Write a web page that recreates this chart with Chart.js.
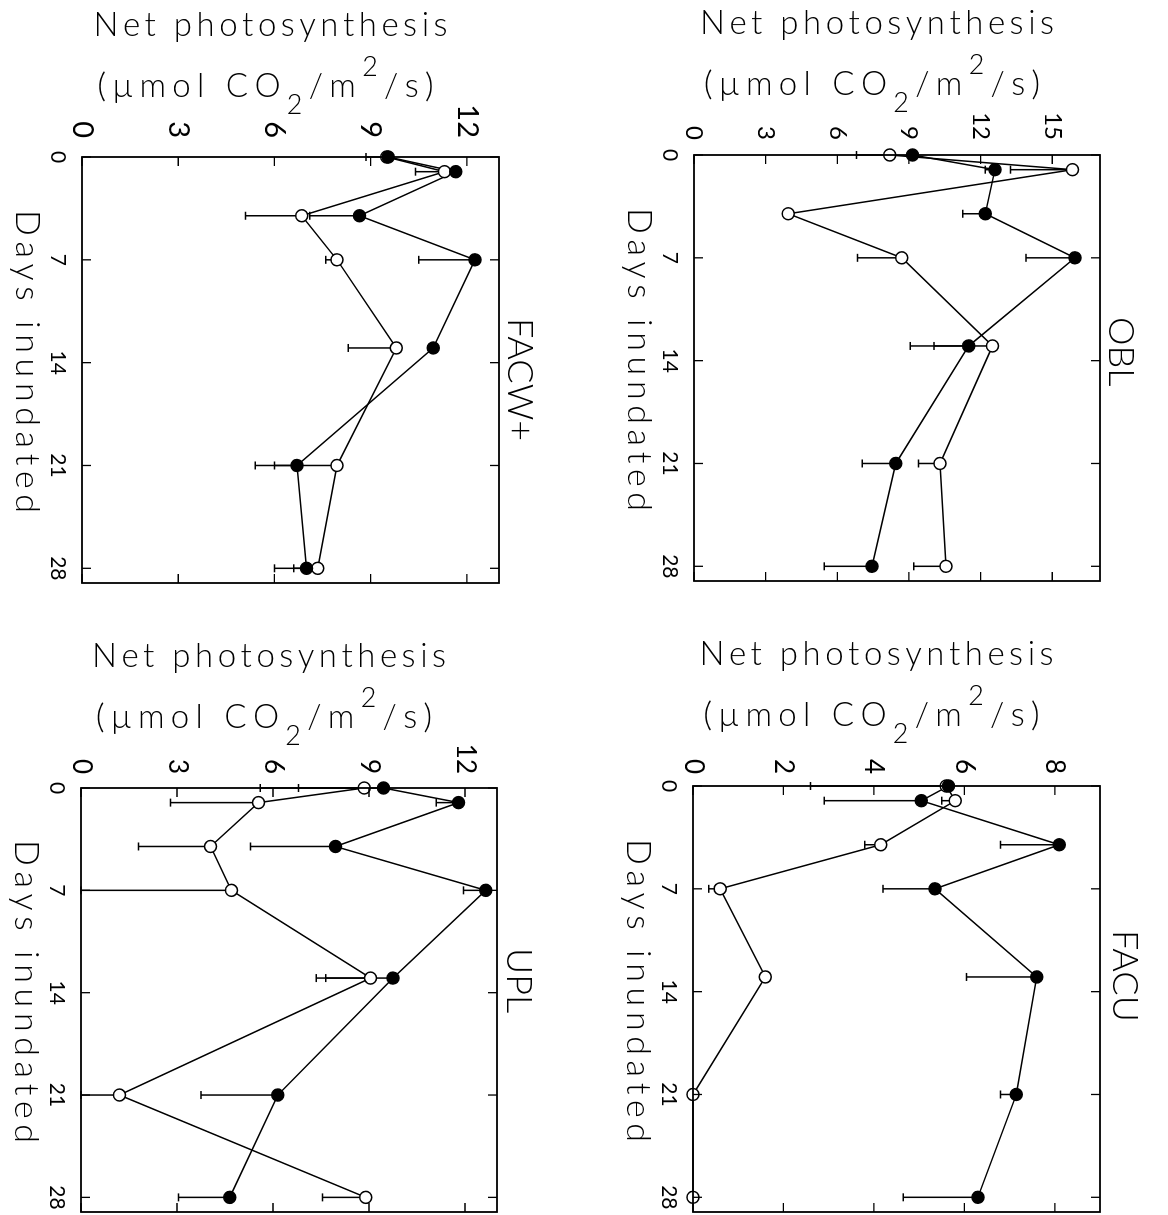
<!doctype html>
<html>
<head>
<meta charset="utf-8">
<title>Net photosynthesis vs days inundated</title>
<script src="https://cdn.jsdelivr.net/npm/chart.js@4.4.1/dist/chart.umd.min.js"></script>
<style>
  html, body { margin: 0; padding: 0; background: #fff; }
  #fig { position: relative; width: 1168px; height: 1215px; overflow: hidden; background: #fff; }
  .panel { position: absolute; width: 584px; height: 640px; }
  /* each chart is drawn "landscape" and turned a quarter turn clockwise */
  .panel canvas { position: absolute; left: 0; top: 0; transform-origin: 0 0; transform: translateX(584px) rotate(90deg); }
</style>
</head>
<body>
<div id="fig">
  <div class="panel" style="left:0;top:0"><canvas id="facw" width="640" height="584"></canvas></div>
  <div class="panel" style="left:584px;top:0"><canvas id="obl" width="640" height="584"></canvas></div>
  <div class="panel" style="left:0;top:600px"><canvas id="upl" width="640" height="584"></canvas></div>
  <div class="panel" style="left:584px;top:600px"><canvas id="facu" width="640" height="584"></canvas></div>
</div>
<script>
const days = [0, 1, 4, 7, 13, 21, 28];
const dayTicks = [0, 7, 14, 21, 28];
const photoTicks12 = [0, 3, 6, 9, 12];
const photoTicks15 = [0, 3, 6, 9, 12, 15];
const photoTicks8 = [0, 2, 4, 6, 8];

// FACW+  (filled = closed symbols, open = open symbols, *Low = lower end of error bar)
const facwFilled    = [9.55, 11.65, 8.65, 12.25, 10.95, 6.7, 7.0];
const facwFilledLow = [8.85, null, 7.1, 10.5, null, 5.4, 6.0];
const facwOpen      = [9.5, 11.3, 6.85, 7.95, 9.8, 7.95, 7.35];
const facwOpenLow   = [null, 10.4, 5.1, 7.6, 8.3, 6.0, 6.6];

// OBL
const oblFilled    = [9.15, 12.6, 12.2, 15.95, 11.5, 8.45, 7.45];
const oblFilledLow = [null, 12.2, 11.25, 13.9, 9.05, 7.05, 5.45];
const oblOpen      = [8.2, 15.85, 3.95, 8.7, 12.5, 10.3, 10.55];
const oblOpenLow   = [6.8, 13.25, null, 6.85, 10.05, 9.4, 9.2];

// UPL
const uplFilled    = [9.45, 11.8, 7.95, 12.65, 9.75, 6.15, 4.65];
const uplFilledLow = [5.6, 11.1, 5.3, 11.95, 7.65, 3.75, 3.05];
const uplOpen      = [8.85, 5.55, 4.05, 4.7, 9.05, 1.2, 8.9];
const uplOpenLow   = [6.8, 2.8, 1.8, 0, 7.35, 0, 7.55];

// FACU
const facuFilled    = [5.65, 5.05, 8.1, 5.35, 7.6, 7.15, 6.3];
const facuFilledLow = [null, 2.9, 6.8, 4.2, 6.05, 6.8, 4.65];
const facuOpen      = [5.6, 5.8, 4.15, 0.6, 1.6, 0, 0];
const facuOpenLow   = [2.6, 5.5, 3.8, 0.35, null, null, null];

const FONT = 'Lato, "Liberation Sans", sans-serif';
const FW = '300';

function pts(vals) {
  return days.map((d, i) => ({ x: d, y: vals[i] })).filter(p => p.y != null);
}

// letters spread out to a given width (the original lettering is wide)
function drawSpaced(ctx, parts, cx, by, width) {
  const chars = [];
  parts.forEach(p => {
    ctx.font = FW + ' ' + p.s + 'px ' + FONT;
    for (const ch of p.t) chars.push({ ch, s: p.s, dy: p.dy || 0, w: ctx.measureText(ch).width });
  });
  const sum = chars.reduce((s, c) => s + c.w, 0);
  const gap = (width - sum) / (chars.length - 1);
  let x = cx - width / 2;
  ctx.textAlign = 'left';
  ctx.textBaseline = 'alphabetic';
  chars.forEach(c => {
    ctx.font = FW + ' ' + c.s + 'px ' + FONT;
    ctx.fillText(c.ch, x, by + c.dy);
    x += c.w + gap;
  });
}

const panelDeco = {
  id: 'panelDeco',
  beforeDatasetsDraw(chart, args, opts) {
    const { ctx, scales: { x, y } } = chart;
    ctx.save();
    ctx.strokeStyle = '#000';
    ctx.lineWidth = 1.5;
    opts.bars.forEach(([vals, lows]) => {
      days.forEach((d, i) => {
        if (vals[i] == null || lows[i] == null) return;
        const px = x.getPixelForValue(d);
        const p0 = y.getPixelForValue(vals[i]);
        const p1 = y.getPixelForValue(lows[i]);
        ctx.beginPath();
        ctx.moveTo(px, p0); ctx.lineTo(px, p1);
        ctx.moveTo(px - 4, p1); ctx.lineTo(px + 4, p1);
        ctx.stroke();
      });
    });
    ctx.restore();
  },
  afterDatasetsDraw(chart, args, opts) {
    const { ctx, chartArea: a, scales: { x, y } } = chart;
    ctx.save();
    ctx.strokeStyle = '#000';
    ctx.fillStyle = '#000';
    ctx.lineWidth = 1.8;
    ctx.strokeRect(a.left, a.top, a.right - a.left, a.bottom - a.top);
    // inward ticks on all four sides
    ctx.lineWidth = 1.3;
    ctx.beginPath();
    x.ticks.forEach(t => {
      const px = x.getPixelForValue(t.value);
      ctx.moveTo(px, a.bottom); ctx.lineTo(px, a.bottom - 9);
      ctx.moveTo(px, a.top); ctx.lineTo(px, a.top + 9);
    });
    y.ticks.forEach(t => {
      const py = y.getPixelForValue(t.value);
      ctx.moveTo(a.left, py); ctx.lineTo(a.left + 9, py);
      ctx.moveTo(a.right, py); ctx.lineTo(a.right - 9, py);
    });
    ctx.stroke();

    // panel name above the plot
    ctx.font = FW + ' 36px ' + FONT;
    ctx.textAlign = 'left';
    ctx.textBaseline = 'alphabetic';
    ctx.fillText(opts.label, a.left + opts.labelStart, a.top - opts.labelGap);

    // days axis title
    drawSpaced(ctx, [{ t: 'Days inundated', s: 34 }], (a.left + a.right) / 2 - 8.5, a.bottom + 66, 303);

    // photosynthesis title, written in the turned (page) frame
    ctx.translate(0, chart.height);
    ctx.rotate(-Math.PI / 2);
    const sx0 = chart.height - a.bottom, sx1 = chart.height - a.top, sy0 = a.left;
    const cx = (sx0 + sx1) / 2;
    drawSpaced(ctx, [{ t: 'Net photosynthesis', s: 33 }], cx - 20, sy0 - 121, 354);
    drawSpaced(ctx, [
      { t: '(\u00b5mol CO', s: 33 },
      { t: '2', s: 27, dy: 17 },
      { t: '/m', s: 33 },
      { t: '2', s: 27, dy: -21 },
      { t: '/s)', s: 33 }
    ], cx - 25, sy0 - 60, 336);
    ctx.restore();
  }
};

function makePanel(id, p) {
  const W = 640, H = 584;
  const lineDs = (vals) => ({
    data: pts(vals), showLine: true, pointRadius: 0, borderColor: '#000', borderWidth: 1.5, clip: false
  });
  const pointDs = (vals, fill) => ({
    data: pts(vals), showLine: false, pointRadius: 6, pointBorderWidth: 1.5,
    pointBackgroundColor: fill, pointBorderColor: '#000', clip: false
  });
  new Chart(document.getElementById(id), {
    type: 'scatter',
    data: {
      datasets: [
        pointDs(p.filled, '#000'),
        pointDs(p.open, '#fff'),
        lineDs(p.filled),
        lineDs(p.open)
      ]
    },
    options: {
      responsive: false,
      animation: false,
      events: [],
      layout: { padding: { top: p.area.top, right: W - p.area.right, bottom: 0, left: 0 } },
      plugins: {
        legend: { display: false },
        tooltip: { enabled: false },
        panelDeco: {
          label: p.label, labelStart: p.labelStart, labelGap: p.labelGap,
          bars: [[p.filled, p.filledLow], [p.open, p.openLow]]
        }
      },
      scales: {
        x: {
          type: 'linear', min: 0, max: 29,
          grid: { display: false, drawTicks: false },
          border: { display: false },
          afterBuildTicks: s => { s.ticks = dayTicks.map(v => ({ value: v })); },
          afterFit: s => { s.height = H - p.area.bottom; },
          ticks: { maxRotation: 0, color: '#000', padding: 12, font: { family: FONT, size: 21 } }
        },
        y: {
          type: 'linear', min: 0, max: p.yMax,
          grid: { display: false, drawTicks: false },
          border: { display: false },
          afterBuildTicks: s => { s.ticks = p.yTicks.map(v => ({ value: v })); },
          afterFit: s => { s.width = p.area.left; },
          ticks: { color: '#000', padding: p.yPad, font: { family: FONT, size: p.yFont } }
        }
      }
    },
    plugins: [panelDeco]
  });
}

makePanel('facw', {
  label: 'FACW+', labelStart: 161, labelGap: 9,
  area: { left: 157, right: 583, top: 85, bottom: 502 },
  yMax: 13, yTicks: photoTicks12, yFont: 29, yPad: 19,
  filled: facwFilled, filledLow: facwFilledLow, open: facwOpen, openLow: facwOpenLow
});
makePanel('obl', {
  label: 'OBL', labelStart: 162, labelGap: 9,
  area: { left: 155, right: 581, top: 68, bottom: 474 },
  yMax: 17, yTicks: photoTicks15, yFont: 24, yPad: 15,
  filled: oblFilled, filledLow: oblFilledLow, open: oblOpen, openLow: oblOpenLow
});
makePanel('upl', {
  label: 'UPL', labelStart: 160, labelGap: 10,
  area: { left: 188, right: 612, top: 87, bottom: 503 },
  yMax: 13, yTicks: photoTicks12, yFont: 26, yPad: 14,
  filled: uplFilled, filledLow: uplFilledLow, open: uplOpen, openLow: uplOpenLow
});
makePanel('facu', {
  label: 'FACU', labelStart: 144, labelGap: 13,
  area: { left: 186, right: 612, top: 68, bottom: 475 },
  yMax: 9, yTicks: photoTicks8, yFont: 26, yPad: 12,
  filled: facuFilled, filledLow: facuFilledLow, open: facuOpen, openLow: facuOpenLow
});
</script>
</body>
</html>
